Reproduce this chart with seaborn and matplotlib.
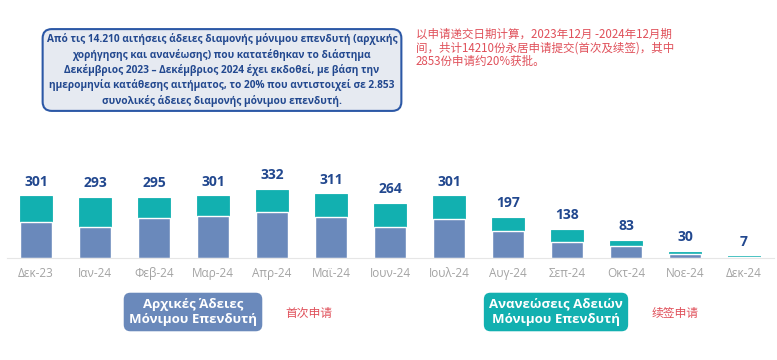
import matplotlib.pyplot as plt
import numpy as np
import pandas as pd
import seaborn as sns

months = ['Δεκ-23', 'Ιαν-24', 'Φεβ-24', 'Μαρ-24', 'Απρ-24', 'Μαϊ-24', 'Ιουν-24',
          'Ιουλ-24', 'Αυγ-24', 'Σεπ-24', 'Οκτ-24', 'Νοε-24', 'Δεκ-24']
totals = [301, 293, 295, 301, 332, 311, 264, 301, 197, 138, 83, 30, 7]
initial = [175, 151, 193, 204, 222, 199, 149, 188, 131, 75, 56, 20, 4]

note_el = ('Από τις 14.210 αιτήσεις άδειες διαμονής μόνιμου επενδυτή (αρχικής\n'
           'χορήγησης και ανανέωσης) που κατατέθηκαν το διάστημα\n'
           'Δεκέμβριος 2023 – Δεκέμβριος 2024 έχει εκδοθεί, με βάση την\n'
           'ημερομηνία κατάθεσης αιτήματος, το 20% που αντιστοιχεί σε 2.853\n'
           'συνολικές άδειες διαμονής μόνιμου επενδυτή.')
note_zh = ('以申请递交日期计算，2023年12月 -2024年12月期\n'
           '间，共计14210份永居申请提交(首次及续签)，其中\n'
           '2853份申请约20%获批。')
legend_initial = 'Αρχικές Άδειες\nΜόνιμου Επενδυτή'
legend_renew = 'Ανανεώσεις Αδειών\nΜόνιμου Επενδυτή'
zh_initial = '首次申请'
zh_renew = '续签申请'

BLUE = '#6a89bb'
TEAL = '#12b0b0'
NAVY = '#22488f'
RED = '#e0505a'
CJK = ['Noto Sans CJK SC', 'DejaVu Sans']


def main() -> None:
    sns.set_style('white')
    plt.rcParams['font.family'] = ['Open Sans', 'Noto Sans CJK SC', 'DejaVu Sans']

    df = pd.DataFrame({'Month': months, 'Total': totals, 'Initial': initial})

    fig = plt.figure(figsize=(7.77, 3.6), dpi=100)
    ax = fig.add_axes([6.5 / 777, (360 - 257.7) / 360, 767 / 777, 81.6 / 360])
    sns.barplot(data=df, x='Month', y='Total', color=TEAL, width=0.54,
                saturation=1, linewidth=0.6, edgecolor=TEAL, ax=ax)
    sns.barplot(data=df, x='Month', y='Initial', color=BLUE, width=0.54,
                saturation=1, ax=ax)
    ax.bar_label(ax.containers[0], labels=[str(v) for v in totals], padding=5.5,
                 color=NAVY, fontsize=10, fontweight='bold')
    ax.set_xlim(-0.5, 12.5)
    ax.set_ylim(0, 400)
    ax.set_xlabel('')
    ax.set_ylabel('')
    ax.set_yticks([])
    ax.tick_params(axis='x', length=0, pad=7, labelsize=8.5, labelcolor='#a3a3a3')
    for side in ['left', 'right', 'top']:
        ax.spines[side].set_visible(False)
    ax.spines['bottom'].set_color('#e6e6e6')

    # note box
    fig.text(222 / 777, 1 - 70 / 360, note_el, ha='center', va='center',
             fontsize=7.3, fontweight='bold', color=NAVY, linespacing=1.38,
             bbox=dict(boxstyle='round,pad=0.4,rounding_size=0.9',
                       fc='#e6eaf1', ec='#2c58a6', lw=1.5))
    fig.text(416 / 777, 1 - 48 / 360, note_zh, ha='left', va='center',
             fontsize=8.3, color=RED, linespacing=1.05, family=CJK)

    # legend boxes
    fig.text(193 / 777, 1 - 312 / 360, legend_initial, ha='center', va='center',
             fontsize=9.5, fontweight='bold', color='white', linespacing=1.2,
             bbox=dict(boxstyle='round,pad=0.4,rounding_size=0.5',
                       fc=BLUE, ec='none'))
    fig.text(285 / 777, 1 - 313 / 360, zh_initial, ha='left', va='center',
             fontsize=8.5, color=RED, family=CJK)
    fig.text(556 / 777, 1 - 312 / 360, legend_renew, ha='center', va='center',
             fontsize=9.5, fontweight='bold', color='white', linespacing=1.2,
             bbox=dict(boxstyle='round,pad=0.4,rounding_size=0.5',
                       fc=TEAL, ec='none'))
    fig.text(652 / 777, 1 - 313 / 360, zh_renew, ha='left', va='center',
             fontsize=8.5, color=RED, family=CJK)

    fig.savefig('out.png', dpi=100)


if __name__ == '__main__':
    main()
